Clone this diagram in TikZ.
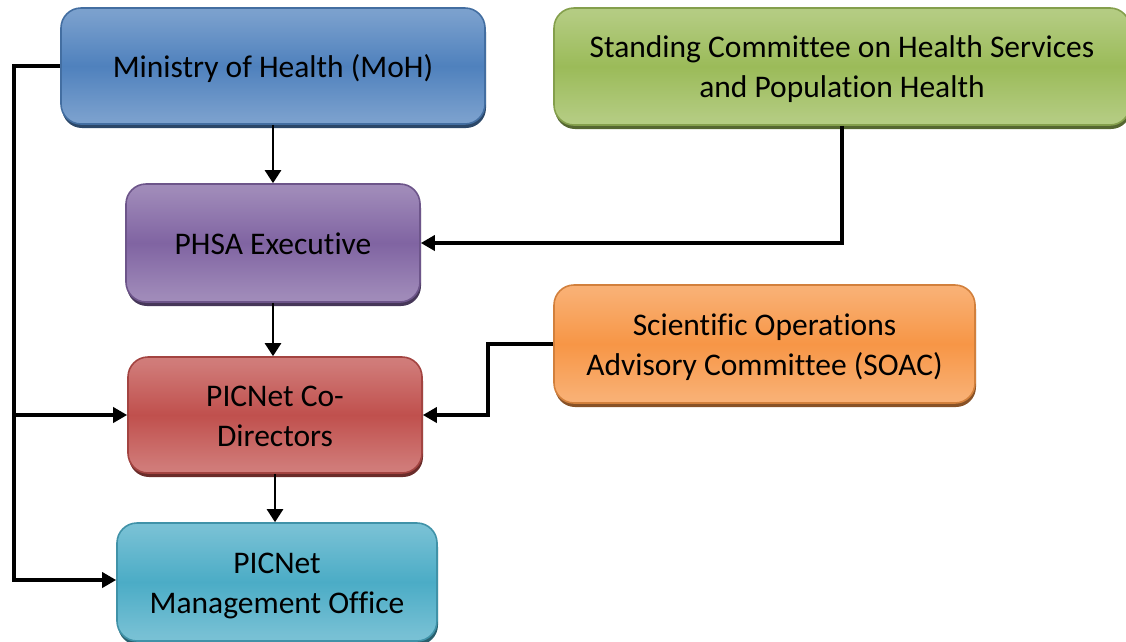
\documentclass[tikz,border=0pt]{standalone}
\usepackage{fontspec}
\setmainfont{Carlito}[Ligatures=NoCommon]
\usetikzlibrary{arrows.meta,shadows}
\definecolor{bluemid}{HTML}{4F81BD}\definecolor{bluelt}{HTML}{95B3D7}
\definecolor{purmid}{HTML}{8064A2}\definecolor{purlt}{HTML}{B3A2C7}
\definecolor{redmid}{HTML}{C0504D}\definecolor{redlt}{HTML}{DA9694}
\definecolor{aqmid}{HTML}{4BACC6}\definecolor{aqlt}{HTML}{93CDDD}
\definecolor{grnmid}{HTML}{9BBB59}\definecolor{grnlt}{HTML}{C3D69B}
\definecolor{ormid}{HTML}{F79646}\definecolor{orlt}{HTML}{FAC090}
\pgfdeclareverticalshading{blueshade}{100bp}{color(0bp)=(bluelt); color(28bp)=(bluelt!60!bluemid); color(50bp)=(bluemid); color(72bp)=(bluelt!60!bluemid); color(100bp)=(bluelt)}
\pgfdeclareverticalshading{purshade}{100bp}{color(0bp)=(purlt); color(28bp)=(purlt!60!purmid); color(50bp)=(purmid); color(72bp)=(purlt!60!purmid); color(100bp)=(purlt)}
\pgfdeclareverticalshading{redshade}{100bp}{color(0bp)=(redlt); color(28bp)=(redlt!60!redmid); color(50bp)=(redmid); color(72bp)=(redlt!60!redmid); color(100bp)=(redlt)}
\pgfdeclareverticalshading{aqshade}{100bp}{color(0bp)=(aqlt); color(28bp)=(aqlt!60!aqmid); color(50bp)=(aqmid); color(72bp)=(aqlt!60!aqmid); color(100bp)=(aqlt)}
\pgfdeclareverticalshading{grnshade}{100bp}{color(0bp)=(grnlt); color(28bp)=(grnlt!60!grnmid); color(50bp)=(grnmid); color(72bp)=(grnlt!60!grnmid); color(100bp)=(grnlt)}
\pgfdeclareverticalshading{orshade}{100bp}{color(0bp)=(orlt); color(28bp)=(orlt!60!ormid); color(50bp)=(ormid); color(72bp)=(orlt!60!ormid); color(100bp)=(orlt)}
\newcommand\lnstrut{\rule[-9pt]{0pt}{40pt}}
\tikzset{
  orgbox/.style n args={3}{rounded corners=20pt, line width=1.6pt,
    draw=#1!85!black, shading=#2,
    drop shadow={shadow xshift=1pt, shadow yshift=-4pt, fill=#1!55!black, opacity=1},
    minimum width=#3, align=center, inner sep=0pt,
    font=\fontsize{31.5}{40}\selectfont, text=black},
  elbow/.style={line width=3.5pt, -{Triangle[length=14pt,width=15pt]}},
  vline/.style={line width=2.5pt, -{Triangle[length=13pt,width=16pt]}}
}
\begin{document}
\begin{tikzpicture}[x=1pt,y=-1pt]
\useasboundingbox (0,0) rectangle (1126,641);
\node[orgbox={bluemid}{blueshade}{424pt}, minimum height=116pt] (moh) at (273,66) {\lnstrut Ministry of Health (MoH)};
\node[orgbox={grnmid}{grnshade}{576pt}, minimum height=117pt] (std) at (842,66.5) {\lnstrut Standing Committee on Health Services\\\lnstrut and Population Health};
\node[orgbox={purmid}{purshade}{294pt}, minimum height=118pt] (phsa) at (273,243) {\lnstrut PHSA Executive};
\node[orgbox={ormid}{orshade}{421pt}, minimum height=118pt] (soac) at (764.5,344) {\lnstrut Scientific Operations\\\lnstrut Advisory Committee (SOAC)};
\node[orgbox={redmid}{redshade}{294pt}, minimum height=116pt] (codir) at (275,415) {\lnstrut PICNet Co-\\\lnstrut Directors};
\node[orgbox={aqmid}{aqshade}{320pt}, minimum height=118pt] (mgmt) at (277,582) {\lnstrut PICNet\\\lnstrut Management Office};
\coordinate (lt) at (14,66);
\coordinate (lb) at (14,580);
\draw[elbow] (moh.west) -- (lt) -- (lb) -- (lb -| mgmt.west);
\draw[elbow] (lt |- codir.west) -- (codir.west);
\draw[elbow] (std.south) |- (phsa.east);
\coordinate (sj) at (488,344);
\draw[elbow] (soac.west) -- (sj) |- (codir.east);
\draw[vline] (moh.south) -- (phsa.north);
\draw[vline] (phsa.south) -- (phsa.south |- codir.north);
\draw[vline] (codir.south) -- (codir.south |- mgmt.north);
\end{tikzpicture}
\end{document}
